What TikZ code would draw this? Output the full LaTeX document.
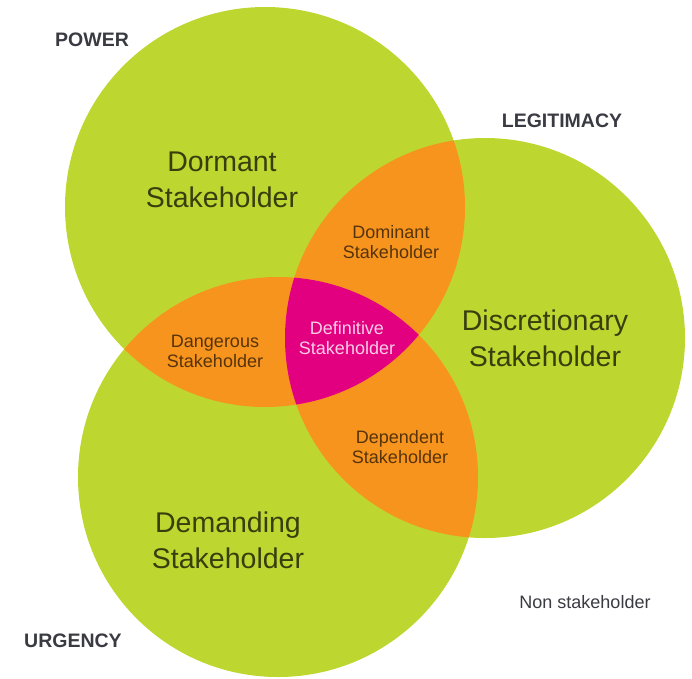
\documentclass[tikz,border=0pt]{standalone}
\usepackage{fontspec}
\setmainfont{Liberation Sans}
\usetikzlibrary{positioning}
\definecolor{lime}{RGB}{190,214,48}
\definecolor{orng}{RGB}{247,148,30}
\definecolor{mgnta}{RGB}{226,0,128}
\definecolor{labelgray}{RGB}{58,58,66}

\begin{document}
\begin{tikzpicture}[x=1pt,y=-1pt,
  bigtext/.style={align=center,inner sep=0pt,font=\fontsize{28.5}{36}\selectfont,text=black,text opacity=0.7},
  smalltext/.style={align=center,inner sep=0pt,font=\fontsize{18}{20}\selectfont,text=black,text opacity=0.65},
  setlabel/.style={inner sep=0pt,font=\bfseries\fontsize{19.5}{22}\selectfont,text=labelgray}]
  \useasboundingbox (0,0) rectangle (692,678);

  % circle centres
  \coordinate (P) at (265,207);
  \coordinate (L) at (485,338);
  \coordinate (U) at (278,477);
  \def\rad{200}

  % the three sets
  \foreach \c in {P,L,U} {
    \fill[lime] (\c) circle (\rad);
  }

  % two-set overlaps
  \foreach \a/\b in {P/L,P/U,L/U} {
    \begin{scope}
      \clip (\a) circle (\rad);
      \fill[orng] (\b) circle (\rad);
    \end{scope}
  }

  % all three
  \begin{scope}
    \clip (P) circle (\rad);
    \clip (L) circle (\rad);
    \fill[mgnta] (U) circle (\rad);
  \end{scope}

  % set names
  \node[setlabel] (power) at (92,40) {POWER};
  \node[setlabel] (legitimacy) at (562,121) {LEGITIMACY};
  \node[setlabel] (urgency) at (73,641) {URGENCY};

  % region labels
  \node[bigtext] (dormant) at (222,180) {Dormant\\Stakeholder};
  \node[bigtext] (discretionary) at (545,338) {Discretionary\\Stakeholder};
  \node[bigtext] (demanding) at (228,540) {Demanding\\Stakeholder};
  \node[smalltext] (dominant) at (391,242) {Dominant\\Stakeholder};
  \node[smalltext] (dangerous) at (215,351) {Dangerous\\Stakeholder};
  \node[smalltext,text=white,text opacity=0.8] (definitive) at (347,338) {Definitive\\Stakeholder};
  \node[smalltext] (dependent) at (400,447) {Dependent\\Stakeholder};
  \node[inner sep=0pt,font=\fontsize{18}{20}\selectfont,text=labelgray] (nonstake) at (585,602) {Non stakeholder};
\end{tikzpicture}
\end{document}
